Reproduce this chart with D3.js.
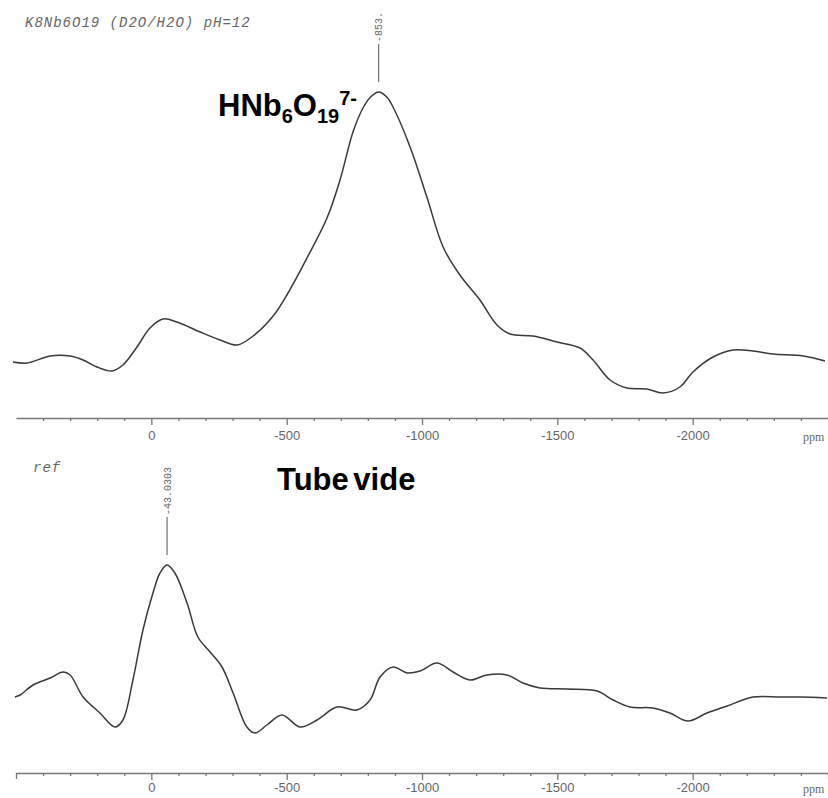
<!DOCTYPE html>
<html>
<head>
<meta charset="utf-8">
<script src="https://cdn.jsdelivr.net/npm/d3@7/dist/d3.min.js"></script>
<style>
body { margin: 0; background: #ffffff; }
</style>
</head>
<body>
<div id="nmrplot"></div>
<script>
var outerWidth = 828, outerHeight = 798

// ppm axis runs backwards, like the spectrometer printout
var ppmDomain = [500, -2500]
var majorTicks = [0, -500, -1000, -1500, -2000]
var minorTicks = [400, 300, 200, 100, -100, -200, -300, -400, -600, -700, -800, -900,
                  -1100, -1200, -1300, -1400, -1600, -1700, -1800, -1900,
                  -2100, -2200, -2300, -2400]

var titles = ["K8Nb6O19 (D2O/H2O) pH=12", "ref"]
var peakLabels = ["-853.", "-43.0303"]
var peakPpm = [-840, -58]

// [ppm, intensity] (arbitrary units)
var topSpectrum = [
    [511, 56], [459, 55], [374, 62], [300, 62], [252, 58], [201, 51], [145, 47], [105, 53],
    [53, 71], [5, 90], [-43, 99], [-95, 96], [-180, 86], [-254, 78], [-317, 73], [-376, 82],
    [-450, 102], [-505, 125], [-575, 160], [-649, 200], [-697, 238], [-745, 286], [-782, 310],
    [-810, 321], [-840, 326], [-870, 321], [-893, 311], [-956, 271], [-1018, 221], [-1078, 171],
    [-1140, 143], [-1214, 118], [-1277, 93], [-1325, 84], [-1410, 82], [-1499, 76], [-1584, 70],
    [-1632, 58], [-1695, 38], [-1757, 30], [-1831, 29], [-1890, 25], [-1953, 31], [-2001, 46],
    [-2075, 61], [-2149, 68], [-2223, 67], [-2297, 64], [-2408, 62], [-2489, 57]
]

var refSpectrum = [
    [504, 76], [485, 78], [437, 88], [374, 95], [326, 101], [300, 98], [252, 76], [190, 60],
    [134, 46], [105, 53], [68, 93], [31, 143], [-6, 180], [-32, 200], [-58, 208], [-87, 200],
    [-132, 170], [-172, 136], [-217, 121], [-261, 106], [-302, 80], [-353, 46], [-383, 40],
    [-427, 48], [-483, 58], [-549, 46], [-612, 53], [-686, 66], [-760, 63], [-808, 73],
    [-845, 96], [-893, 106], [-945, 100], [-993, 102], [-1055, 110], [-1115, 101], [-1177, 93],
    [-1240, 98], [-1314, 98], [-1373, 90], [-1436, 85], [-1536, 84], [-1647, 82], [-1706, 73],
    [-1768, 66], [-1853, 65], [-1916, 60], [-1983, 52], [-2053, 60], [-2127, 67], [-2223, 76],
    [-2323, 76], [-2397, 76], [-2496, 75]
]

var svg = d3.select("#nmrplot").append("svg")
    .attr("width", outerWidth)
    .attr("height", outerHeight)
    .style("font-family", "'Liberation Sans', Arial, sans-serif")

var xScale = d3.scaleLinear().domain(ppmDomain).range([16, 828])

var panels = [
    {data: topSpectrum, axisY: 418, labelY: 13, title: titles[0], peak: 0, titleX: 25, titleY: 27, outer: 0},
    {data: refSpectrum, axisY: 773, labelY: 10, title: titles[1], peak: 1, titleX: 33, titleY: 472, outer: 6}
]

var line = d3.line().curve(d3.curveCatmullRom.alpha(0.5))

panels.forEach(function(p) {
    var yScale = d3.scaleLinear().domain([0, 400]).range([p.axisY, p.axisY - 400])
    var g = svg.append("g")

    // minor ticks (and the axis line itself)
    var minorAxis = d3.axisBottom(xScale)
        .tickValues(minorTicks)
        .tickSize(3)
        .tickSizeOuter(p.outer)
        .tickFormat("")
    g.append("g")
        .attr("transform", "translate(0," + p.axisY + ")")
        .call(minorAxis)

    var majorAxis = d3.axisBottom(xScale)
        .tickValues(majorTicks)
        .tickSize(7)
        .tickSizeOuter(0)
        .tickFormat(function(d) { return String(d) })
    var ax = g.append("g")
        .attr("transform", "translate(0," + p.axisY + ")")
        .call(majorAxis)
    ax.select(".domain").remove()
    ax.selectAll("text")
        .attr("y", p.labelY)
        .attr("fill", "#666")
        .style("font-size", "13px")
        .style("font-family", "'Liberation Sans', Arial, sans-serif")

    g.selectAll(".domain, .tick line").attr("stroke", "#777").attr("stroke-width", 1.3)

    g.append("text")
        .attr("x", 803)
        .attr("y", p.axisY + p.labelY + 10)
        .attr("fill", "#666")
        .style("font-family", "'Liberation Serif', serif")
        .style("font-size", "12px")
        .text("ppm")

    // spectrum trace
    g.append("path")
        .datum(p.data)
        .attr("d", line.x(function(d) { return xScale(d[0]) }).y(function(d) { return yScale(d[1]) }))
        .attr("fill", "none")
        .attr("stroke", "#3a3a3a")
        .attr("stroke-width", 1.5)

    // peak pick marker
    var peakPoint = p.data.reduce(function(a, b) { return b[1] > a[1] ? b : a })
    var px = xScale(peakPpm[p.peak])
    var top = yScale(peakPoint[1]) - 10
    g.append("line")
        .attr("x1", px).attr("x2", px)
        .attr("y1", top).attr("y2", top - 38)
        .attr("stroke", "#555")
        .attr("stroke-width", 1)
    g.append("text")
        .attr("transform", "translate(" + (px + 3.5) + "," + (top - 40) + ") rotate(-90)")
        .attr("fill", "#666")
        .style("font-family", "'Liberation Mono', monospace")
        .style("font-size", "10px")
        .text(peakLabels[p.peak])

    g.append("text")
        .attr("x", p.titleX)
        .attr("y", p.titleY)
        .attr("fill", "#666")
        .style("font-family", "'Liberation Mono', monospace")
        .style("font-style", "italic")
        .style("font-size", "14px")
        .style("letter-spacing", "1px")
        .text(p.title)
})

// species label
var species = svg.append("text")
    .attr("x", 218)
    .attr("y", 116)
    .attr("fill", "#000")
    .style("font-weight", "bold")
    .style("font-size", "31px")
species.append("tspan").text("HNb")
species.append("tspan").attr("dy", 7).style("font-size", "20px").text("6")
species.append("tspan").attr("dy", -7).text("O")
species.append("tspan").attr("dy", 7).style("font-size", "20px").text("19")
species.append("tspan").attr("dy", -18).style("font-size", "20px").text("7-")

svg.append("text")
    .attr("x", 277)
    .attr("y", 490)
    .attr("fill", "#000")
    .style("font-weight", "bold")
    .style("font-size", "31px")
    .style("word-spacing", "-4px")
    .text("Tube vide")
</script>
</body>
</html>
